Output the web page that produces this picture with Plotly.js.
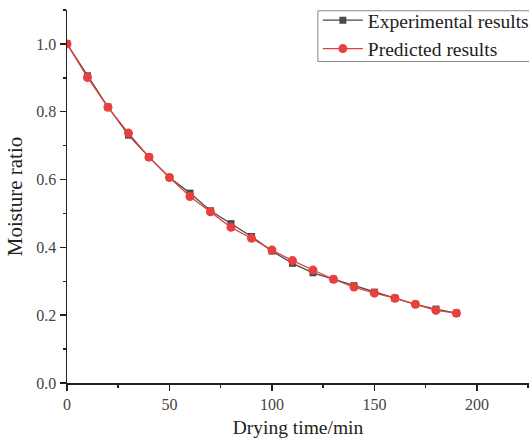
<!DOCTYPE html>
<html>
<head>
<meta charset="utf-8">
<script src="https://cdn.plot.ly/plotly-3.0.1.min.js"></script>
<style>html,body{margin:0;padding:0;background:#fff;}#chart{width:529px;height:438px;}</style>
</head>
<body>
<div id="chart"></div>
<script>
const dryingTime = [0,10,20,30,40,50,60,70,80,90,100,110,120,130,140,150,160,170,180,190];
const experimental = [1.0,0.906,0.814,0.731,0.666,0.606,0.560,0.508,0.470,0.432,0.389,0.353,0.325,0.306,0.287,0.268,0.250,0.232,0.218,0.206];
const predicted = [1.0,0.901,0.813,0.737,0.666,0.606,0.550,0.505,0.459,0.427,0.392,0.361,0.333,0.306,0.283,0.265,0.250,0.232,0.214,0.206];
const seriesNames = ["Experimental results", "Predicted results"];

const font = "'Liberation Serif', 'Times New Roman', serif";

const traces = [
  {x: dryingTime, y: experimental, name: seriesNames[0], mode: 'lines+markers',
   line: {color: '#4a4a4a', width: 1.3},
   marker: {symbol: 'square', size: 7, color: '#4a4a4a'}},
  {x: dryingTime, y: predicted, name: seriesNames[1], mode: 'lines+markers',
   line: {color: '#e8403f', width: 1.3},
   marker: {symbol: 'circle', size: 9, color: '#e8403f'}}
];

const layout = {
  width: 529, height: 438,
  margin: {l: 67, r: 0, t: 10, b: 55, autoexpand: false},
  paper_bgcolor: '#fff', plot_bgcolor: '#fff',
  font: {family: font, color: '#333'},
  showlegend: true,
  legend: {x: 0.543, y: 1.024, xanchor: 'left', yanchor: 'top',
    bgcolor: 'rgba(0,0,0,0)', borderwidth: 0,
    font: {family: font, size: 19.5, color: '#222'}, tracegroupgap: 0, itemwidth: 40},
  shapes: [
    {type: 'rect', xref: 'paper', yref: 'paper', x0: 0.543, x1: 1.02, y0: 0.862, y1: 0.998,
     line: {color: '#888', width: 1}, fillcolor: 'rgba(0,0,0,0)', layer: 'above'}
  ],
  xaxis: {
    range: [0, 225.4], showgrid: false, zeroline: false,
    showline: true, linecolor: '#222', linewidth: 1.5,
    ticks: 'outside', ticklen: 6, tickwidth: 1.5, tickcolor: '#222',
    dtick: 50, tick0: 0,
    tickfont: {family: font, size: 16, color: '#444'},
    minor: {ticks: 'outside', ticklen: 3, tickwidth: 1.5, tickcolor: '#222', dtick: 25},
    title: {text: 'Drying time/min', font: {family: font, size: 19.5, color: '#222'}, standoff: 13}
  },
  yaxis: {
    range: [0, 1.1], showgrid: false, zeroline: false,
    showline: true, linecolor: '#222', linewidth: 1.5,
    ticks: 'outside', ticklen: 6, tickwidth: 1.5, tickcolor: '#222',
    dtick: 0.2, tick0: 0, tickformat: '.1f',
    tickfont: {family: font, size: 16, color: '#444'},
    minor: {ticks: 'outside', ticklen: 3, tickwidth: 1.5, tickcolor: '#222', dtick: 0.1},
    title: {text: 'Moisture ratio', font: {family: font, size: 21, color: '#222'}, standoff: 8}
  }
};

Plotly.newPlot('chart', traces, layout, {displayModeBar: false, staticPlot: true});
</script>
</body>
</html>
